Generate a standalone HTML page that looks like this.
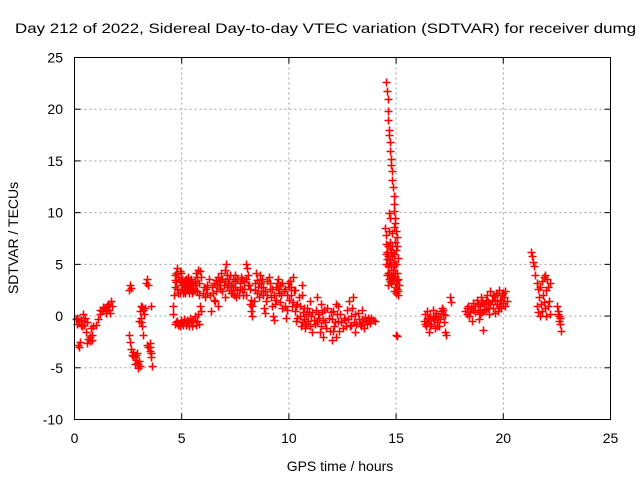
<!DOCTYPE html>
<html><head><meta charset="utf-8"><style>
html,body{margin:0;padding:0;background:#fff;}
svg{display:block;font-family:"Liberation Sans",Arial,sans-serif;}
</style></head><body>
<svg id="chart" width="640" height="480" viewBox="0 0 640 480" xmlns="http://www.w3.org/2000/svg">
<rect width="640" height="480" fill="#fff"/>
<text x="15" y="33" font-size="14" textLength="621" lengthAdjust="spacingAndGlyphs">Day 212 of 2022, Sidereal Day-to-day VTEC variation (SDTVAR) for receiver dumg</text>
<g id="grid"></g>
<g id="ticks"></g>
<g id="marks"></g>
<rect x="74.5" y="57.5" width="536" height="362" fill="none" stroke="#000" stroke-width="1"/>
<text x="340" y="471" font-size="14" text-anchor="middle">GPS time / hours</text>
<text x="0" y="0" font-size="14" text-anchor="middle" transform="translate(18,238) rotate(-90)">SDTVAR / TECUs</text>
</svg>
<script>
const xTicks = [0,5,10,15,20,25];
const yTicks = [-10,-5,0,5,10,15,20,25];
const points = [
[0.05,-0.3],[0.1,-0.8],[0.15,-2.8],[0.2,-3.0],[0.25,-2.5],[0.3,-0.4],[0.35,-1.0],[0.4,0.2],[0.45,-0.5],[0.5,-0.2],[0.55,-1.5],[0.6,-2.6],[0.65,-2.2],[0.7,-2.0],[0.75,-1.2],[0.8,-2.3],[0.85,-1.0],
[1.0,-0.9],[1.1,-0.3],[1.2,0.2],[1.3,0.5],[1.4,0.8],[1.5,0.6],[1.55,1.2],[1.6,1.0],[1.65,0.3],[1.7,1.5],[1.75,1.0],
[2.55,2.5],[2.6,3.0],[2.65,2.7],[2.55,-1.8],[2.6,-2.5],[2.65,-3.2],[2.7,-3.8],[2.75,-3.5],[2.8,-4.0],[2.85,-4.2],[2.9,-4.5],[2.95,-5.0],[3.0,-4.3],[2.9,-3.6],[3.0,-0.5],[3.05,0.5],[3.1,1.0],[3.15,-1.0],[3.2,-1.8],[3.25,0.2],[3.1,-0.2],[3.35,3.2],[3.4,3.6],[3.45,3.0],[3.4,-2.8],[3.45,-3.0],[3.5,-3.4],[3.55,-4.0],[3.6,-4.8],[3.5,-2.6],[3.3,0.8],[3.55,1.0],
[4.65,2.0],[4.7,3.5],[4.75,4.2],[4.8,4.6],[4.85,3.8],[4.9,4.4],[4.95,3.0],[5.0,2.6],[5.05,3.2],[5.1,2.4],[5.15,3.0],[5.2,2.8],[5.25,3.4],[5.3,2.5],[5.35,3.1],[5.4,2.7],[5.45,3.6],[5.5,2.2],[5.55,3.0],[5.6,2.5],[5.65,4.2],[5.7,3.8],[5.75,4.5],[5.8,2.0],[5.85,1.0],[5.9,0.5],[4.6,1.0],[4.6,0.2],[4.7,2.8],[4.9,2.2],[5.3,3.8],
[4.7,-0.8],[4.8,-0.5],[4.9,-1.0],[5.0,-0.7],[5.1,-0.3],[5.2,-0.9],[5.3,-0.6],[5.4,-0.2],[5.5,-1.0],[5.6,0.0],[5.7,-0.5],[5.75,0.2],[5.8,-0.8],
[6.0,2.2],[6.1,1.8],[6.15,2.6],[6.2,3.0],[6.3,2.0],[6.35,0.5],[6.4,2.8],[6.5,3.2],[6.55,1.5],[6.6,3.5],[6.7,3.8],[6.75,3.0],[6.8,2.6],[6.85,4.2],[6.9,3.6],[7.0,4.5],[7.05,5.0],[7.1,4.0],[7.15,3.2],[7.2,2.5],[7.3,3.0],[7.35,2.2],[7.4,3.6],[7.5,2.8],[7.55,1.8],[7.6,2.5],[7.7,3.2],[7.75,3.8],[7.8,2.6],[7.9,3.4],[8.0,5.0],[8.05,4.6],[8.1,4.0],[8.15,3.0],[8.2,1.2],[8.25,0.5],[8.3,0.0],[8.35,1.5],[8.4,2.5],[8.5,3.5],[8.55,2.8],[8.6,1.8],[8.65,4.0],[8.7,3.2],[8.8,2.0],[8.85,0.8],[8.9,0.3],[8.95,1.5],[9.0,3.4],[9.05,3.8],[9.1,2.6],[9.2,1.0],[9.25,0.0],[9.3,-0.4],[9.35,1.2],[9.4,2.8],[9.5,3.6],[9.55,2.2],[9.6,1.4],[9.7,3.2],[9.75,2.4],[9.8,1.0],[9.85,-0.2],[9.9,0.6],[10.0,2.8],[10.05,3.4],[10.1,2.0],[10.15,1.0],[10.2,3.8],[10.25,2.5],[7.5,4.0],[7.0,1.8],[8.45,4.2],[8.0,2.0],[6.7,1.0],
[10.3,0.5],[10.35,-0.5],[10.4,1.2],[10.5,0.0],[10.55,-1.0],[10.6,2.0],[10.7,0.8],[10.75,-1.2],[10.8,0.2],[10.9,-0.5],[11.0,1.5],[11.05,0.0],[11.1,-1.5],[11.2,-0.8],[11.25,0.6],[11.3,1.8],[11.4,-0.2],[11.5,-1.0],[11.55,0.4],[11.6,-2.0],[11.7,-0.6],[11.8,0.8],[11.9,-1.4],[12.0,-0.3],[12.05,0.5],[12.1,-1.0],[12.2,-2.0],[12.3,-0.5],[12.4,0.2],[12.5,-1.2],[12.6,-0.4],[12.7,0.6],[12.8,1.5],[12.85,-1.0],[12.9,0.0],[13.0,1.8],[13.05,-0.6],[13.1,-1.5],[13.2,0.3],[13.3,-0.8],[13.4,-0.3],[13.5,-1.2],[13.6,-0.5],[13.7,-0.2],[13.8,-0.7],[13.9,-0.4],[14.0,-0.5],[11.5,1.2],[12.3,1.0],[10.6,3.0],[10.3,2.5],[10.45,1.8],[12.2,1.2],[13.4,0.6],[12.0,-2.3],
[14.55,22.6],[14.57,21.8],[14.6,21.0],[14.6,19.8],[14.62,19.0],[14.65,18.0],[14.68,17.5],[14.7,16.8],[14.72,16.0],[14.75,15.2],[14.78,14.6],[14.8,14.0],[14.82,13.2],[14.85,12.5],[14.88,11.6],[14.9,10.8],[14.92,10.2],[14.95,9.5],[14.97,9.0],[15.0,8.2],[15.02,7.6],[15.05,6.8],[15.08,5.6],
[14.5,8.5],[14.52,7.8],[14.55,7.0],[14.57,6.2],[14.58,5.5],[14.6,4.8],[14.62,4.2],[14.65,3.6],[14.68,5.0],[14.7,6.5],[14.72,7.2],[14.75,4.0],[14.78,3.2],[14.8,5.8],[14.85,4.5],[14.9,3.8],[14.95,2.8],[15.0,2.2],[15.05,3.5],[15.1,2.4],[15.12,3.0],[14.88,6.0],[14.8,8.0],[14.7,9.5],[14.65,10.0],[15.0,-1.8],[15.05,-1.9],
[16.3,-0.5],[16.35,0.2],[16.4,-1.0],[16.45,0.5],[16.5,-0.2],[16.55,-1.5],[16.6,0.0],[16.65,-0.8],[16.7,0.6],[16.75,-0.4],[16.8,-1.2],[16.85,0.3],[16.9,-0.6],[16.95,-0.1],[17.0,-1.0],[17.1,0.5],[17.15,0.8],[17.2,0.2],[17.25,-0.6],[17.3,-1.5],[17.35,-1.8],[17.5,1.8],[17.55,1.4],
[18.2,0.5],[18.3,0.2],[18.35,1.0],[18.4,0.0],[18.5,0.8],[18.55,-0.5],[18.6,1.3],[18.7,0.4],[18.75,1.6],[18.8,0.6],[18.85,-0.3],[18.9,1.0],[18.95,1.8],[19.0,0.4],[19.05,-1.3],[19.1,1.2],[19.2,0.7],[19.25,2.0],[19.3,1.4],[19.35,0.2],[19.4,2.4],[19.45,1.6],[19.5,0.8],[19.55,1.9],[19.6,0.3],[19.65,2.2],[19.7,1.2],[19.75,0.5],[19.8,2.5],[19.85,1.6],[19.9,0.8],[19.95,2.0],[20.0,1.3],[20.05,1.8],[20.1,2.4],[20.15,1.5],
[21.3,6.2],[21.35,5.8],[21.4,5.2],[21.45,4.8],[21.5,4.0],[21.55,3.2],[21.55,1.0],[21.6,2.6],[21.6,0.4],[21.65,1.8],[21.7,0.0],[21.7,2.8],[21.75,1.2],[21.8,3.4],[21.8,0.5],[21.85,2.0],[21.9,1.4],[21.9,3.8],[21.95,4.0],[21.95,0.8],[22.0,2.5],[22.05,3.6],[22.1,1.0],[22.1,2.8],[22.15,1.5],[22.2,3.2],[22.2,0.2],[22.0,0.0],
[22.5,1.0],[22.55,0.5],[22.6,0.0],[22.6,-0.5],[22.65,-0.8],[22.7,-1.4],[22.55,0.2],[22.65,-0.2]
];
const densePoints = [
[0.1,-0.2],[0.2,-0.5],[0.3,-0.9],[0.45,-0.9],[0.6,-0.6],[0.7,-2.4],[0.8,-1.8],[1.2,0.6],[1.35,0.9],[1.5,1.0],[1.6,0.6],[1.45,0.3],
[2.75,-3.9],[2.8,-4.6],[2.85,-3.8],[2.95,-4.6],[3.05,-4.8],[3.1,-0.6],[3.2,0.6],[3.15,0.9],[3.5,-3.0],[3.55,-3.6],
[4.7,4.0],[4.75,3.3],[4.8,2.6],[4.85,2.2],[4.9,3.4],[4.95,4.2],[5.0,3.6],[5.05,2.2],[5.1,3.4],[5.15,2.2],[5.2,3.6],[5.25,2.5],[5.3,3.0],[5.35,2.2],[5.4,3.4],[5.45,2.6],[5.5,3.2],[5.55,2.4],[5.6,3.4],[5.65,3.0],[5.7,2.4],[5.8,3.2],[5.85,4.4],[5.9,3.8],[4.75,-0.6],[4.85,-0.9],[4.95,-0.4],[5.05,-0.9],[5.15,-0.6],[5.25,-0.4],[5.35,-1.0],[5.45,-0.6],[5.55,-0.4],[5.65,-0.9],
[6.05,2.8],[6.2,2.2],[6.25,3.6],[6.45,2.2],[6.5,1.6],[6.6,2.4],[6.65,3.0],[6.8,3.4],[6.9,2.4],[6.95,3.0],[7.0,3.4],[7.1,2.8],[7.2,3.6],[7.25,4.0],[7.3,2.2],[7.4,2.8],[7.45,2.0],[7.5,3.4],[7.6,3.6],[7.65,2.0],[7.7,2.6],[7.8,3.6],[7.85,2.0],[7.9,2.6],[8.0,3.6],[8.1,3.0],[8.2,2.6],[8.25,1.6],[8.3,1.0],[8.4,3.2],[8.5,2.2],[8.6,3.2],[8.7,2.4],[8.75,3.6],[8.8,2.8],[8.9,2.4],[9.0,2.0],[9.1,3.2],[9.15,1.8],[9.2,2.6],[9.3,2.0],[9.4,1.6],[9.45,3.2],[9.5,2.6],[9.6,3.0],[9.65,2.0],[9.7,0.8],[9.8,2.6],[9.9,2.0],[9.95,3.2],[10.0,1.6],[10.1,2.8],[10.2,1.4],
[10.35,1.0],[10.4,-0.2],[10.5,1.0],[10.6,-0.6],[10.65,0.4],[10.7,-0.3],[10.8,-0.8],[10.85,0.8],[10.95,0.4],[11.0,-1.0],[11.1,0.4],[11.15,-0.4],[11.3,-0.6],[11.35,0.2],[11.45,-1.5],[11.6,-0.4],[11.65,0.6],[11.75,-1.2],[11.85,-0.2],[11.95,0.4],[12.05,-1.4],[12.15,-0.6],[12.25,0.2],[12.35,-1.4],[12.45,-0.6],[12.55,-0.2],[12.65,-1.0],[12.75,-0.3],[12.9,-0.9],[12.95,0.8],[13.1,0.2],[13.15,-0.8],[13.25,-0.3],[13.35,-1.0],[13.45,-0.6],[13.55,-0.1],[13.65,-0.8],[13.75,-0.4],[13.85,-0.2],
[14.52,6.0],[14.55,5.0],[14.58,4.0],[14.6,6.8],[14.62,3.0],[14.64,5.8],[14.66,8.2],[14.68,4.2],[14.7,3.4],[14.72,5.4],[14.75,6.2],[14.78,4.8],[14.8,3.8],[14.82,6.8],[14.85,3.4],[14.88,4.8],[14.9,2.4],[14.92,5.2],[14.95,4.2],[14.98,3.2],[15.0,5.0],[15.02,2.6],[15.05,4.2],[15.08,2.0],[15.1,3.6],[14.95,7.2],[15.0,6.4],[14.9,8.6],
[16.35,-0.8],[16.45,-0.6],[16.55,-0.3],[16.6,-1.0],[16.7,-0.2],[16.8,0.0],[16.9,-1.0],[17.05,-0.3],[17.2,0.6],[17.3,0.1],
[18.3,0.8],[18.45,0.4],[18.6,0.6],[18.7,1.0],[18.8,1.2],[18.9,0.2],[19.0,1.4],[19.1,0.6],[19.2,1.6],[19.3,0.8],[19.4,1.2],[19.5,2.0],[19.6,1.5],[19.7,2.0],[19.8,1.0],[19.9,1.6],[20.0,2.2],[20.1,1.0]
];
const X0=74.5,X1=610.5,Y0=419.5,Y1=57.5;
const xs=h=>X0+(h-0)/(25-0)*(X1-X0);
const ys=v=>Y0-(v+10)/(35)*(Y0-Y1);
const NS='http://www.w3.org/2000/svg';
function mk(tag,attrs,parent){const e=document.createElementNS(NS,tag);for(const k in attrs)e.setAttribute(k,attrs[k]);parent.appendChild(e);return e;}
const grid=document.getElementById('grid'),ticks=document.getElementById('ticks'),marks=document.getElementById('marks');
xTicks.forEach(t=>{const x=xs(t);
 if(t>0&&t<25){const g=mk('line',{x1:x,x2:x,y1:Y0,y2:Y1,stroke:'#a0a0a0','stroke-dasharray':'2,3'},grid);
 
 }
 mk('line',{x1:x,x2:x,y1:Y0,y2:Y0-6,stroke:'#000'},ticks);
 mk('line',{x1:x,x2:x,y1:Y1,y2:Y1+6,stroke:'#000'},ticks);
 const l=mk('text',{x:x,y:443,'font-size':14,'text-anchor':'middle'},ticks);l.textContent=t;
 
 
});
yTicks.forEach(t=>{const y=ys(t);
 if(t>-10&&t<25){const g=mk('line',{x1:X0,x2:X1,y1:y,y2:y,stroke:'#a0a0a0','stroke-dasharray':'2,3'},grid);
 
 }
 mk('line',{x1:X0,x2:X0+6,y1:y,y2:y,stroke:'#000'},ticks);
 mk('line',{x1:X1,x2:X1-6,y1:y,y2:y,stroke:'#000'},ticks);
 const l=mk('text',{x:63,y:y+5,'font-size':14,'text-anchor':'end'},ticks);l.textContent=t;
 
 
});
points.concat(densePoints).forEach(p=>{const x=Math.round(xs(p[0]))+0.5,y=Math.round(ys(p[1]))+0.5;
 const m=mk('path',{d:`M${x-4},${y}H${x+4}M${x},${y-4}V${y+4}`,stroke:'#f00','stroke-width':1.6,fill:'none'},marks);
 
 
});
</script>
</body></html>
